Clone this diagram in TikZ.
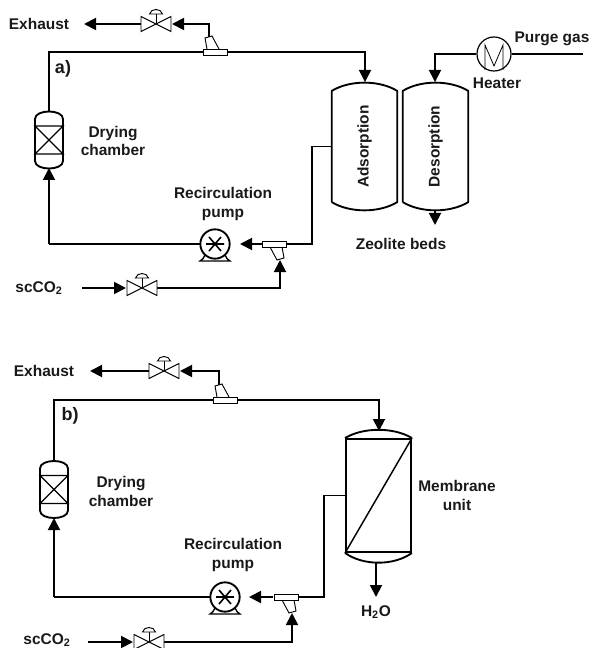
\documentclass[tikz,border=0pt]{standalone}
\usepackage{fontspec}
\setmainfont{Liberation Sans}
\usetikzlibrary{arrows.meta,positioning,calc}
\tikzset{
  lbl/.style={font=\bfseries\fontsize{11.6}{14.2}\selectfont,align=center,inner sep=0pt,text=black!90},
  tagtext/.style={lbl,font=\bfseries\fontsize{13.5}{15}\selectfont},
  pipe/.style={line width=1.4pt,line join=miter},
  flow/.style={pipe,-{Triangle[length=9pt,width=9pt]}},
  vesselline/.style={line width=1.4pt,line join=round},
  symb/.style={draw=black,fill=white,line width=0.7pt},
  bed/.style={minimum width=48.75pt,minimum height=83pt,inner sep=0pt,lbl},
  pics/valve/.style={code={
    \draw[symb] (0,0) -- (0,-10);
    \draw[symb] (-6.5,-10) .. controls (-5,-16) and (5,-16) .. (6.5,-10) -- cycle;
    \draw[symb] (-15,-7.5) -- (15,7.5) -- (15,-7.5) -- (-15,7.5) -- cycle;
    \coordinate (-l) at (-15,0);
    \coordinate (-r) at (15,0);
  }},
  pics/tee/.style={code={
    \draw[symb] (-4,3) -- (3,16) -- (10,14) -- (8,3);
    \draw[symb] (-12,-3) rectangle (12,3);
    \coordinate (-l) at (-12,0);
    \coordinate (-r) at (12,0);
    \coordinate (-s) at (6,16);
  }},
  pics/pump/.style={code={
    \draw[line width=1pt] (-10,11) .. controls (-11,14) and (-13,16) .. (-15,17) -- (15,17) .. controls (13,16) and (11,14) .. (10,11);
    \node[circle,draw=black,fill=white,line width=1.4pt,minimum size=22pt,inner sep=0pt] (-c) at (0,0) {};
    \draw[line width=1.2pt] (-9,0) -- (9,0) (-6,-7) -- (6,7) (-6,7) -- (6,-7);
  }},
  pics/dryer/.style={code={
    \draw[vesselline] (-14,-14) -- (-14,-21) .. controls (-14,-31) and (14,-31) .. (14,-21) -- (14,21) .. controls (14,31) and (-14,31) .. (-14,21) -- cycle;
    \draw[line width=1pt] (-14,-14) -- (14,-14) -- (-14,14) -- (14,14) -- cycle;
    \coordinate (-t) at (0,-28);
    \coordinate (-b) at (0,28);
  }},
}
\newcommand{\bedoutline}[1]{%
  \draw[vesselline] (#1.south west) -- (#1.north west) .. controls +(18,-11) and +(-18,-11) .. (#1.north east)
    -- (#1.south east) .. controls +(-18,11) and +(18,11) .. (#1.south west);}

\begin{document}
\begin{tikzpicture}[x=0.75pt,y=-0.75pt]
  \useasboundingbox (0,0) rectangle (590,648);
  % Part a: equipment
  \node[lbl] (exhaustA) at (39,24) {Exhaust};
  \node[tagtext] (tagA) at (63,69) {a)};
  \node[lbl] (dryTextA) at (113,141) {Drying\\chamber};
  \node[lbl] (pumpTextA) at (223,204) {Recirculation\\pump};
  \node[lbl] (co2A) at (39,288) {scCO\textsubscript{2}};
  \node[lbl] (purge) at (552,39) {Purge gas};
  \node[lbl] (heaterText) at (497,83) {Heater};
  \node[lbl] (zeolite) at (401,244) {Zeolite beds};
  \node[bed] (adsorb) at (364.5,146.5) {\rotatebox{90}{Adsorption}};
  \node[bed] (desorb) at (435.5,146.5) {\rotatebox{90}{Desorption}};
  \node[circle,draw,line width=0.9pt,minimum size=25.5pt,inner sep=0pt] (heater) at (494,54) {};
  \coordinate (exhaustEndA) at (84,24);
  \coordinate (topA) at (49,52);
  \coordinate (bedInA) at (365,82);
  \coordinate (bedInB) at (435,82);
  \coordinate (bedOutTop) at (435,210);
  \coordinate (bedOut) at (435,225);
  \coordinate (purgeEnd) at (583,54);
  \coordinate (riserA) at (312,244);
  \coordinate (co2StartA) at (82,288);
  \coordinate (pumpArrowA) at (240,244);
  \coordinate (valveArrowA) at (172,24);
  \coordinate (co2ArrowA) at (126,288);
  \coordinate (teeInA) at (280,260);
  % Part a: pipes
  \draw[flow] (209,38) |- (valveArrowA);
  \draw[flow] (142,24) -- (exhaustEndA);
  \draw[pipe] (49,112) -- (topA) -- (203,52);
  \draw[flow] (227,52) -| (bedInA);
  \draw[flow] (49,244) -- (49,168);
  \draw[pipe] (49,244) -- (205,244);
  \draw[flow] (262,244) -- (pumpArrowA);
  \draw[pipe] (286,244) -- (riserA) |- (adsorb.west);
  \draw[flow] (co2StartA) -- (co2ArrowA);
  \draw[flow] (157,288) -| (teeInA);
  \draw[flow] (heater.west) -| (bedInB);
  \draw[pipe] (heater.east) -- (purgeEnd);
  \draw[flow] (bedOutTop) -- (bedOut);
  % Part a: symbols
  \pic (valveA) at (156,24) {valve};
  \pic[rotate=180] (teeA) at (215,52) {tee};
  \pic (dryA) at (49,140) {dryer};
  \pic (pumpA) at (215,244) {pump};
  \pic (teeB) at (274,244) {tee};
  \pic (valveB) at (142,288) {valve};
  \bedoutline{adsorb}
  \bedoutline{desorb}
  \draw[line width=0.6pt] (485,70) -- (485,45) -- (494,66) -- (503,45) -- (503,70);
  % Part b: equipment
  \node[lbl] (exhaustC) at (44,371) {Exhaust};
  \node[tagtext] (tagC) at (70,416) {b)};
  \node[lbl] (dryTextC) at (121,491) {Drying\\chamber};
  \node[lbl] (pumpTextC) at (233,555) {Recirculation\\pump};
  \node[lbl] (co2C) at (47,640) {scCO\textsubscript{2}};
  \node[lbl] (membText) at (457,495) {Membrane\\unit};
  \node[lbl] (water) at (376,612) {H\textsubscript{2}O};
  \node[draw,line width=1.4pt,minimum width=48.75pt,minimum height=84.75pt,inner sep=0pt] (memb) at (378.5,495.5) {};
  \coordinate (exhaustEndC) at (90,371);
  \coordinate (topC) at (54,400);
  \coordinate (membIn) at (379,431);
  \coordinate (membOut) at (376,597);
  \coordinate (riserC) at (324,597);
  \coordinate (co2StartC) at (88,642);
  \coordinate (pumpArrowC) at (249,597);
  \coordinate (valveArrowC) at (180,371);
  \coordinate (co2ArrowC) at (133,642);
  \coordinate (teeInC) at (292,613);
  % Part b: pipes
  \draw[flow] (219,386) |- (valveArrowC);
  \draw[flow] (150,371) -- (exhaustEndC);
  \draw[pipe] (54,461) -- (topC) -- (213,400);
  \draw[flow] (237,400) -| (membIn);
  \draw[flow] (54,597) -- (54,518);
  \draw[pipe] (54,597) -- (215,597);
  \draw[flow] (273,597) -- (pumpArrowC);
  \draw[pipe] (298,597) -- (riserC) |- (memb.west);
  \draw[flow] (co2StartC) -- (co2ArrowC);
  \draw[flow] (164,642) -| (teeInC);
  \draw[flow] (376,562) -- (membOut);
  % Part b: symbols
  \pic (valveC) at (164,371) {valve};
  \pic[rotate=180] (teeC) at (225,400) {tee};
  \pic (dryC) at (54,489.5) {dryer};
  \pic (pumpC) at (225,597) {pump};
  \pic (teeD) at (286,597) {tee};
  \pic (valveD) at (149,642) {valve};
  \draw[vesselline] (memb.north west) .. controls +(18,-11) and +(-18,-11) .. (memb.north east);
  \draw[vesselline] (memb.south west) .. controls +(18,13) and +(-18,13) .. (memb.south east);
  \draw[line width=1.1pt] (memb.south west) -- (memb.north east);
\end{tikzpicture}
\end{document}
